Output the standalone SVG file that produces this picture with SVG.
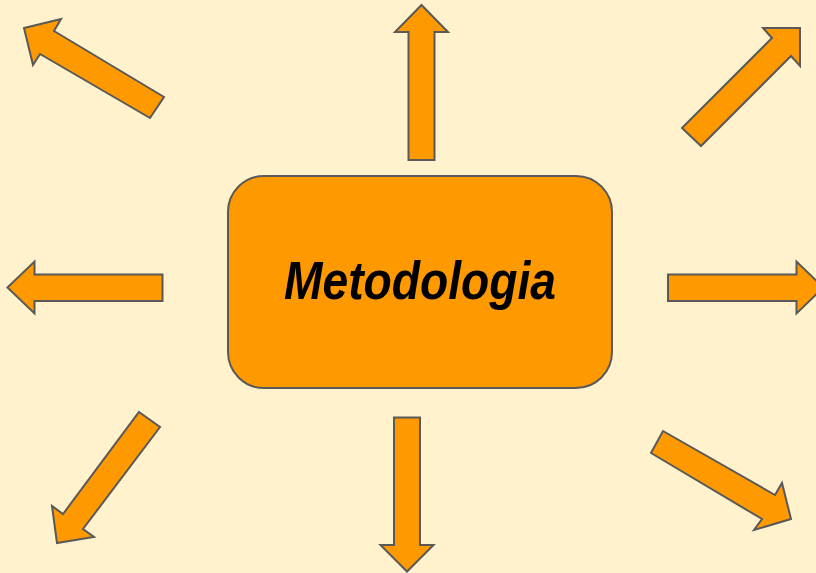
<svg xmlns="http://www.w3.org/2000/svg" width="816" height="573" viewBox="0 0 816 573">
<style>
.arr{fill:#FF9900;stroke:#595959;stroke-width:2;stroke-linejoin:miter}
.box{fill:#FF9900;stroke:#595959;stroke-width:2}
.lbl{font-family:"Liberation Sans",Arial,sans-serif;font-weight:bold;font-style:italic;font-size:54px;fill:#000000}
</style>
<rect x="0" y="0" width="816" height="573" fill="#FFF2CC"/>
<g id="center">
<rect class="box" x="228" y="176" width="384" height="212" rx="36" ry="36"/>
<text class="lbl" x="420" y="299" text-anchor="middle" textLength="272" lengthAdjust="spacingAndGlyphs">Metodologia</text>
</g>
<g id="connectors">
<polygon id="arrow-nw" class="arr" points="24,28 61,19 54,31 164,97 150,118 40,54 33,65"/>
<polygon id="arrow-n" class="arr" points="421.5,5 448,32 434.5,32 434.5,160 408.5,160 408.5,32 395,32"/>
<polygon id="arrow-ne" class="arr" points="800,28 800,66 791,56 701,146 682,128 772,38 763,28"/>
<polygon id="arrow-w" class="arr" points="7.5,287.5 34.5,261.5 34.5,274.5 162.5,274.5 162.5,301 34.5,301 34.5,313.5"/>
<polygon id="arrow-e" class="arr" points="823.5,287.5 796.5,261.5 796.5,274.5 668,274.5 668,301 796.5,301 796.5,313.5"/>
<polygon id="arrow-sw" class="arr" points="139,412 160,427 83,529 94,537 57,543 52,506 63,514"/>
<polygon id="arrow-s" class="arr" points="394,417.5 420,417.5 420,545 433.5,545 407,571.5 380.5,545 394,545"/>
<polygon id="arrow-se" class="arr" points="663,431 775,495 782,483 791,519 754,530 762,519 651,453"/>
</g>
</svg>
